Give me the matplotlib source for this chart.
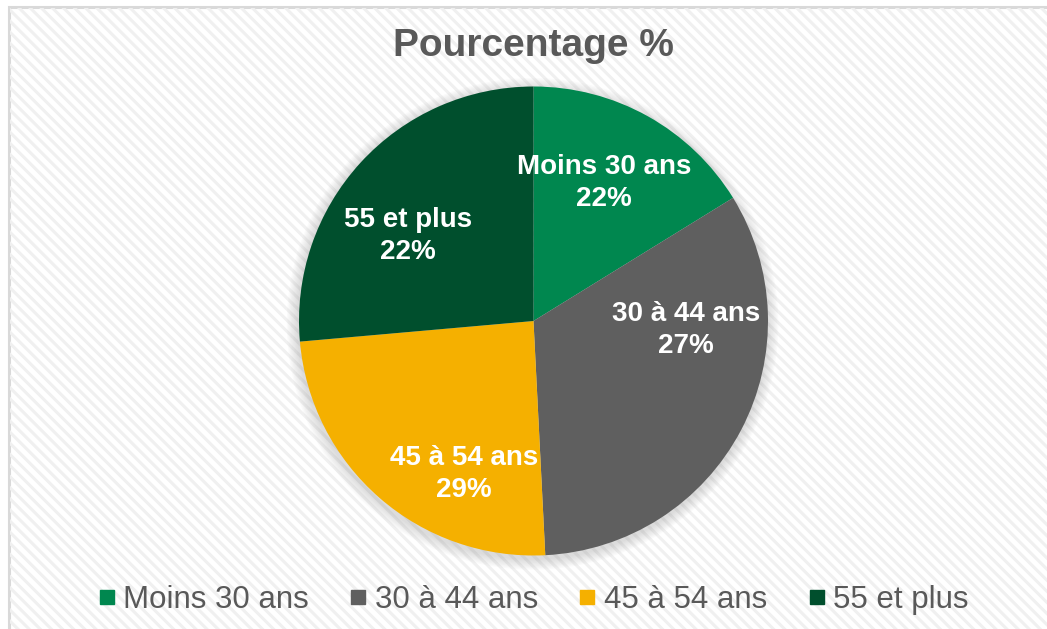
import matplotlib
matplotlib.use("Agg")
import matplotlib.pyplot as plt
from matplotlib.patches import Rectangle, Circle
from matplotlib.lines import Line2D
import numpy as np

# ---- data ----
categories = ["Moins 30 ans", "30 à 44 ans", "45 à 54 ans", "55 et plus"]
slice_sizes = [16.2, 33.0, 24.4, 26.4]          # angular share as drawn
pct_labels = ["22%", "27%", "29%", "22%"]       # printed data labels
title = "Pourcentage %"

# ---- style ----
colors = ["#00874F", "#5F5F5F", "#F5B000", "#004F2D"]
label_polar = [(63.0, 0.66), (-3.2, 0.65), (-114.5, 0.715), (146.0, 0.645)]
text_gray = "#595959"

plt.rcParams['font.family'] = ['Liberation Sans', 'DejaVu Sans']
plt.rcParams['hatch.linewidth'] = 2.2

W, H = 1047, 629
fig = plt.figure(figsize=(W / 100, H / 100), dpi=100)
fig.patch.set_facecolor("white")

# background with diagonal stripes and light border
bg = Rectangle((9 / W, -0.05), 1.1, 1 - 7 / H + 0.05, transform=fig.transFigure,
               facecolor="white", edgecolor="#d9d9d9", linewidth=2.2, zorder=-3)
fig.patches.append(bg)
hatch = Rectangle((10 / W, -0.05), 1.1, 1 - 8 / H + 0.05, transform=fig.transFigure,
                  facecolor="none", edgecolor="#f0f0f0", linewidth=0, hatch="\\\\\\", zorder=-2)
fig.patches.append(hatch)

# pie axes
cx, cy, r = 533.5, 321, 234.5
ax = fig.add_axes([(cx - r) / W, (H - cy - r) / H, 2 * r / W, 2 * r / H])
ax.set_zorder(1)
ax.patch.set_visible(False)
ax.axis("off")

# soft shadow
for k in range(8):
    ax.add_patch(Circle((-0.004, -0.012), 1.0 + 0.006 * (k + 1), facecolor="#808080",
                        alpha=0.035, edgecolor="none", zorder=0.5, clip_on=False))

wedges, _ = ax.pie(slice_sizes, colors=colors, startangle=90, counterclock=False,
                   radius=1.0, wedgeprops=dict(linewidth=0))
for w in wedges:
    w.set_zorder(2)
    w.set_clip_on(False)
ax.set_xlim(-1, 1)
ax.set_ylim(-1, 1)

for cat, pct, (ang, rad) in zip(categories, pct_labels, label_polar):
    x = rad * np.cos(np.radians(ang))
    y = rad * np.sin(np.radians(ang))
    ax.text(x, y, f"{cat}\n{pct}", ha="center", va="center", color="white",
            fontsize=20, fontweight="bold", linespacing=1.3, zorder=5)

fig.text(cx / W, 1 - 46 / H, title, ha="center", va="center", fontsize=28,
         fontweight="bold", color=text_gray)

handles = [Line2D([], [], marker="s", linestyle="", markersize=9.5,
                  markerfacecolor=c, markeredgecolor=c) for c in colors]
leg = fig.legend(handles, categories, loc="center", ncol=4,
                 bbox_to_anchor=(534 / W, 1 - 600 / H), frameon=False,
                 fontsize=22.5, handlelength=0.45, handletextpad=0.3,
                 columnspacing=1.36, labelcolor=text_gray, borderaxespad=0)
leg.set_zorder(3)

fig.savefig("out.png", dpi=100)
